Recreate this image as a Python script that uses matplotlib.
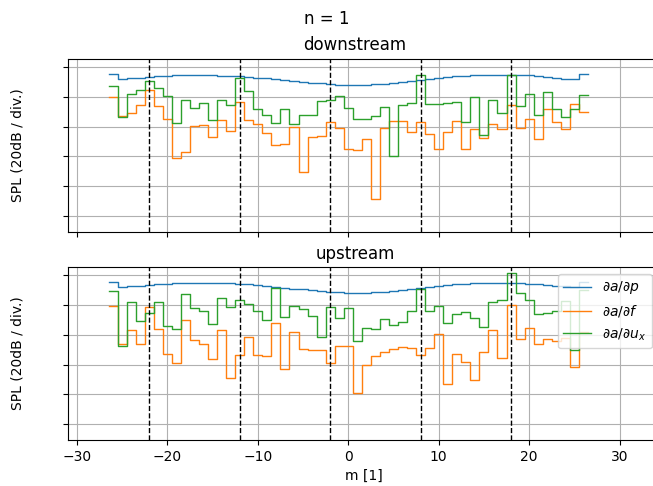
import numpy as np
import matplotlib.pyplot as plt

# azimuthal mode numbers
m = np.arange(-26, 27)

# downstream, SPL in dB (relative)
down_p = [-4.5, -7.6, -7.5, -7.0, -6.4, -5.9, -5.6, -5.4, -5.3, -5.3, -5.4, -5.5, -5.7, -5.9,
          -6.2, -6.6, -7.0, -7.5, -8.0, -8.6, -9.2, -9.8, -10.4, -10.9, -11.4, -11.9, -12.1,
          -12.1, -11.9, -11.5, -11.0, -10.4, -9.7, -9.0, -8.3, -7.6, -7.0, -6.5, -6.1, -5.8,
          -5.5, -5.3, -5.2, -5.2, -5.2, -5.3, -5.5, -5.9, -6.5, -7.2, -7.7, -7.7, -4.5]
down_f = [-20.0, -32.6, -30.5, -25.3, -15.4, -26.0, -35.0, -60.9, -56.7, -39.8, -39.1, -46.7,
          -35.8, -43.2, -23.3, -35.2, -38.4, -44.4, -52.2, -51.8, -40.2, -70.2, -47.0, -46.0,
          -37.0, -40.8, -55.0, -55.5, -48.0, -88.4, -40.8, -36.1, -36.1, -43.3, -36.9, -45.2,
          -55.0, -43.5, -36.1, -55.0, -41.2, -47.7, -38.4, -41.4, -25.1, -41.0, -34.8, -48.4,
          -28.2, -36.8, -41.2, -24.8, -30.0]
down_ux = [-12.4, -33.2, -18.1, -15.3, -9.2, -13.7, -19.1, -37.8, -21.8, -27.6, -23.7, -35.8,
           -21.8, -25.6, -7.2, -15.7, -27.8, -32.0, -37.8, -28.4, -38.4, -32.0, -32.0, -23.0,
           -21.9, -19.6, -27.7, -35.1, -35.1, -32.8, -26.4, -59.4, -25.5, -23.7, -5.2, -24.6,
           -24.6, -24.3, -23.1, -36.8, -19.9, -45.8, -22.3, -30.9, -5.0, -25.8, -18.1, -32.2,
           -16.7, -28.0, -33.6, -28.2, -18.9]

# upstream
up_p = [-4.6, -7.5, -7.4, -7.0, -6.5, -5.9, -5.5, -5.2, -5.0, -4.9, -4.9, -5.0, -5.1, -5.3,
        -5.6, -6.0, -6.5, -7.0, -7.6, -8.2, -8.8, -9.4, -10.0, -10.5, -11.0, -11.4, -11.7,
        -11.8, -11.7, -11.4, -11.0, -10.5, -9.9, -9.2, -8.5, -7.8, -7.2, -6.6, -6.1, -5.7,
        -5.4, -5.2, -5.0, -5.0, -5.0, -5.2, -5.5, -5.9, -6.4, -7.0, -7.4, -7.5, -4.6]
up_f = [-20.8, -46.0, -36.5, -45.8, -21.3, -36.2, -53.0, -58.8, -30.3, -43.5, -46.0, -56.2,
        -36.8, -68.7, -53.3, -41.5, -53.3, -54.1, -31.7, -62.7, -37.8, -49.4, -49.9, -49.9,
        -59.0, -47.8, -47.8, -79.2, -60.0, -54.0, -51.3, -49.8, -48.2, -48.6, -53.3, -48.6,
        -39.5, -73.0, -52.7, -58.4, -70.5, -51.4, -36.8, -55.3, -19.8, -43.1, -35.3, -45.8,
        -43.0, -44.2, -42.0, -61.3, -38.0]
up_ux = [-10.6, -47.8, -17.6, -30.6, -25.0, -17.8, -33.7, -35.8, -12.2, -21.8, -24.0, -32.8,
         -14.9, -21.5, -16.7, -19.1, -23.6, -29.9, -8.3, -27.9, -20.8, -22.9, -27.5, -41.3,
         -21.5, -28.8, -21.8, -43.8, -35.3, -36.2, -29.6, -33.6, -31.5, -23.6, -8.8, -23.8,
         -20.6, -32.0, -25.7, -24.6, -28.5, -34.8, -17.6, -16.6, 1.3, -11.6, -16.6, -25.7,
         -25.5, -24.0, -17.3, -49.9, -10.0]

m_marks = [-22, -12, -2, 8, 18]

edges = np.append(m - 0.5, m[-1] + 0.5)


def stairs(ax, vals, **kw):
    ax.step(edges, np.append(vals, vals[-1]), where='post', lw=1.0, **kw)


fig, (ax1, ax2) = plt.subplots(2, 1, sharex=True, figsize=(6.53, 4.86), dpi=100)
fig.subplots_adjust(left=0.104, right=1.009, top=0.879, bottom=0.095, hspace=0.204)

for ax, vp, vf, vu, name in [(ax1, down_p, down_f, down_ux, 'downstream'),
                             (ax2, up_p, up_f, up_ux, 'upstream')]:
    stairs(ax, vp, color='C0', label=r'$\partial a/\partial p$')
    stairs(ax, vf, color='C1', label=r'$\partial a/\partial f$')
    stairs(ax, vu, color='C2', label=r'$\partial a/\partial u_x$')
    for xm in m_marks:
        ax.axvline(xm, color='k', ls='--', lw=1.0)
    ax.set_yticks(np.arange(-100, 1, 20))
    ax.set_yticklabels([])
    ax.set_ylim(-110.6, 5.7)
    ax.grid(True)
    ax.set_title(name, x=0.486)
    ax.set_ylabel('SPL (20dB / div.)', labelpad=24)

ax1.set_xlim(-31.0, 34.35)
ax2.set_xlabel('m [1]')
ax2.legend(loc='upper right')
fig.suptitle('n = 1')

fig.savefig('out.png')
